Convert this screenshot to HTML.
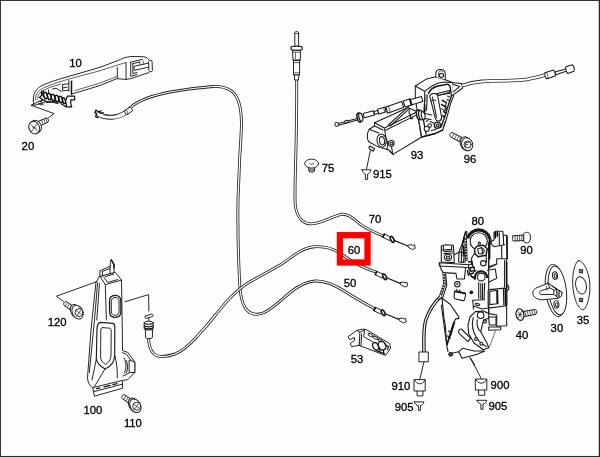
<!DOCTYPE html>
<html>
<head>
<meta charset="utf-8">
<title>Door lock parts diagram</title>
<style>
html,body{margin:0;padding:0;background:#fdfdfd;}
body{width:600px;height:457px;overflow:hidden;position:relative;font-family:"Liberation Sans",sans-serif;}
svg{position:absolute;left:0;top:0;display:block;}
#art{filter:blur(0.4px);}
.l{fill:none;stroke:#1c1c1c;stroke-width:0.95;stroke-linecap:round;stroke-linejoin:round;}
.t{fill:none;stroke:#1c1c1c;stroke-width:0.7;stroke-linecap:round;stroke-linejoin:round;}
.h{fill:none;stroke:#111;stroke-width:1.5;stroke-linecap:round;stroke-linejoin:round;}
.w{fill:#fdfdfd;stroke:#1c1c1c;stroke-width:0.95;stroke-linecap:round;stroke-linejoin:round;}
.k{fill:#1c1c1c;stroke:none;}
.co{fill:none;stroke:#222;stroke-width:2.9;stroke-linecap:butt;stroke-linejoin:round;}
.ci{fill:none;stroke:#fdfdfd;stroke-width:1.25;stroke-linecap:butt;stroke-linejoin:round;}
text{font-family:"Liberation Sans",sans-serif;font-size:11.3px;fill:#000;stroke:#000;stroke-width:0.3;}
#lock80 .l,#lock80 .w{stroke-width:1.1}
#act93 .l,#act93 .w{stroke-width:1.05}
</style>
</head>
<body>
<svg id="art" width="600" height="457" viewBox="0 0 600 457">
<rect x="0" y="0" width="600" height="457" fill="#fdfdfd"/>

<!-- ===== CABLES ===== -->
<g id="cables">
<path class="co" d="M96,112.5 C100,116 110,117.5 118,115.5 C124,114 127,111 131,107 C140,99 155,95 170,92 C185,89.5 200,87.5 213,86.5 C219,86 225,87.4 230,90 C234,92.4 236,95.4 237.6,99 C239.6,103.6 241.3,112 241.5,122 C241.5,132 240.4,145 239.6,160 L238,200 C237.5,230 238.5,260 239.5,280 C240,295 242,304 246,309 C250,314 256,315.5 263,313 C272,309.5 282,299 292,291 C300,285 307,281.5 315,281 C325,280.5 335,285 345,291.5 C355,298 365,303.5 375,309"/>
<path class="ci" d="M96,112.5 C100,116 110,117.5 118,115.5 C124,114 127,111 131,107 C140,99 155,95 170,92 C185,89.5 200,87.5 213,86.5 C219,86 225,87.4 230,90 C234,92.4 236,95.4 237.6,99 C239.6,103.6 241.3,112 241.5,122 C241.5,132 240.4,145 239.6,160 L238,200 C237.5,230 238.5,260 239.5,280 C240,295 242,304 246,309 C250,314 256,315.5 263,313 C272,309.5 282,299 292,291 C300,285 307,281.5 315,281 C325,280.5 335,285 345,291.5 C355,298 365,303.5 375,309"/>
<path class="co" d="M148.6,338 C148.6,344 150,350 154,354 C158,357.5 166,357 175,354 C185,350 192,342 197,336.5 C205,328 210,322 215.5,315 C222,307 226,302 231,297 C238,290 243,286 248,283 C258,277 268,272 280,265 C288,260 294,255 299,252 C305,248.5 310,247 315,246.7 C322,246.5 328,247.5 333,249.5 C340,252.5 345,256.5 349,259.2 C356,263.8 366,268.6 377,272.5"/>
<path class="ci" d="M148.6,338 C148.6,344 150,350 154,354 C158,357.5 166,357 175,354 C185,350 192,342 197,336.5 C205,328 210,322 215.5,315 C222,307 226,302 231,297 C238,290 243,286 248,283 C258,277 268,272 280,265 C288,260 294,255 299,252 C305,248.5 310,247 315,246.7 C322,246.5 328,247.5 333,249.5 C340,252.5 345,256.5 349,259.2 C356,263.8 366,268.6 377,272.5"/>
<path class="co" d="M296.7,78 L296.7,100 C296.6,120 296.2,140 295.7,160 C295.3,175 294.6,192 295.2,204 C295.8,212 298.4,217 302,220.6 C306,224 312,225 320,222.2 C328,219.6 336,215.5 341,214.3 C348,213.3 353.4,218.6 359.4,223.6 C367,229.4 376,233 385,236.8"/>
<path class="ci" d="M296.7,78 L296.7,100 C296.6,120 296.2,140 295.7,160 C295.3,175 294.6,192 295.2,204 C295.8,212 298.4,217 302,220.6 C306,224 312,225 320,222.2 C328,219.6 336,215.5 341,214.3 C348,213.3 353.4,218.6 359.4,223.6 C367,229.4 376,233 385,236.8"/>
</g>

<!-- ===== RED HIGHLIGHT BOX ===== -->
<rect x="339.95" y="235.2" width="27.6" height="27.3" fill="none" stroke="#fd0000" stroke-width="6.3"/>

<!-- ===== LABELS ===== -->
<g id="labels" style="filter:grayscale(1)">
<text x="69.3" y="66.8">10</text>
<text x="21.6" y="149.8">20</text>
<text x="321.8" y="171.6">75</text>
<text x="372.9" y="177.9">915</text>
<text x="410.8" y="158.7">93</text>
<text x="463.8" y="163.1">96</text>
<text x="368.8" y="223.2">70</text>
<text x="347.8" y="254.2">60</text>
<text x="343.8" y="286.7">50</text>
<text x="471.5" y="225.2">80</text>
<text x="520.3" y="254.1">90</text>
<text x="515.8" y="339.3">40</text>
<text x="550.6" y="331.6">30</text>
<text x="576.8" y="323.8">35</text>
<text x="350.8" y="363.4">53</text>
<text x="391.4" y="390.3">910</text>
<text x="394.8" y="411.2">905</text>
<text x="490.6" y="389.4">900</text>
<text x="488.4" y="409.9">905</text>
<text x="47.8" y="325.6">120</text>
<text x="83.5" y="413.5">100</text>
<text x="123.9" y="427.1">110</text>
</g>


<!-- ===== HANDLE 10 ===== -->
<g id="handle10">
<!-- outer top edge -->
<path class="l" d="M33.3,100.5 C33.3,96 34,93 36,90.5 C38,87.8 40,86.5 43,85 C48,82.8 56,80 65,77.5 L100,67.3 L113.3,62.3 C117,61 120,59.5 122.7,58.5 C126,57.2 129,56.6 132,56.5 L143.5,56.7 C146,57.2 147.8,58.3 148.7,59.5"/>
<!-- second/third top lines -->
<path class="t" d="M35.5,100 C35.5,96 36.2,94 38,92 C40,89.5 43,88 46,86.8 C52,84.3 60,81.5 69,79 L100,70.7 L116.7,65.3 L126,62.5"/>
<path class="t" d="M37.6,99 C37.6,96 38.5,94.5 40,93 C42,91 45,89.5 50,87.3 L61,84"/>
<!-- bottom edge -->
<path class="l" d="M72,94 L100,85.5 L116.7,78.7 L126,79.4 L130.5,78.7 L148.7,72.6"/>
<path class="t" d="M75,90.6 L100,83 L116.7,76.6"/>
<!-- verticals -->
<path class="l" d="M117.3,67.3 L117.3,78.2 M126,62.5 L126,79.3"/>
<!-- right recess -->
<path class="l" d="M130.7,62.2 L130.7,76.3 L137,74.6 M130.7,62.2 L142.5,59.3 M132.8,63.6 L132.8,73.6 L137,72.5 M132.8,63.6 L139.5,62"/>
<!-- pin -->
<path class="w" d="M134.3,66.3 L149,63 L149.3,67 L134.8,70.3 Z"/>
<path class="w" d="M148.6,61.2 C148.6,60 151.8,59.6 152,61 L152.4,70.5 C152.4,72 149.2,72.4 149,71 Z"/>
<path class="t" d="M139.8,61.9 L139.8,65 M143.2,61 L143.2,64.2"/>
<!-- left: dark bar + E bracket -->
<path class="h" d="M71.5,81.2 L71.5,94.3"/>
<path class="l" d="M68.8,80.5 L68.8,91.2 M62.6,84.8 L68.8,83.6 M62.6,84.8 L62.6,91 L68.8,90 M62.6,88 L67.3,87.1"/>
<!-- spring -->
<g class="h" style="stroke-width:1.45">
<ellipse cx="45.5" cy="95.6" rx="1.7" ry="3.3" transform="rotate(-15 45.5 95.6)"/>
<ellipse cx="49.3" cy="96.6" rx="1.7" ry="3.3" transform="rotate(-15 49.3 96.6)"/>
<ellipse cx="53.1" cy="97.6" rx="1.7" ry="3.3" transform="rotate(-15 53.1 97.6)"/>
<ellipse cx="56.9" cy="98.6" rx="1.7" ry="3.3" transform="rotate(-15 56.9 98.6)"/>
<ellipse cx="60.7" cy="99.6" rx="1.7" ry="3.3" transform="rotate(-15 60.7 99.6)"/>
<ellipse cx="64" cy="100.6" rx="1.5" ry="3" transform="rotate(-15 64 100.6)"/>
</g>
<!-- left mechanism bits -->
<path class="h" style="stroke-width:1.2" d="M41.5,91 L41.5,95.5 L39.5,97.5 L42.5,99.5 L40.8,101.5 M43.5,90.5 C42.5,93 42.6,95 43.5,96.5 M38.5,101.5 L44,100 L47,102.5 L52,101.8 L58,103.3"/>
<path class="l" d="M48.5,90 L48.5,92.5 M52.5,89 L56,88.3 L61.5,91.3 M39,103.8 C40.5,102.8 42.5,103 43.5,104.2 C42,105.3 40,105.2 39,103.8 Z"/>
<!-- right hook -->
<path class="h" style="stroke-width:1.25" d="M67.2,96.2 L74.6,96.2 L74.6,99.8 L70.8,99.8 C70.4,102.5 70.4,104.5 71.8,106.8 L66,106.8 C66.8,105.2 66.8,104 65.8,102.8 M67.2,96.2 C67,98 66.4,99.5 65.2,100.6 M61.5,104 L65.5,106.6"/>
<!-- bottom line + triangle -->
<path class="l" d="M31.3,105.3 L38.3,101.8 M31.3,105.3 L36.5,104.8 L46,101.5 L60,102 M31.3,105.3 L54,113.6 L48.5,117.8"/>
<path class="l" d="M33.3,100.5 L33.5,103.8"/>
</g>

<!-- ===== BOLT 20 ===== -->
<g id="bolt20">
<path class="w" d="M38.6,121.2 L46.6,117.9 C48.4,117.6 49.2,121.4 47.8,122.3 L40.4,125.8 Z"/>
<path class="t" d="M41.6,120 L43,124.6 M43.8,119.1 L45.3,123.6 M46,118.2 L47.3,122.5"/>
<ellipse class="w" cx="36" cy="126.6" rx="5.2" ry="6.5" transform="rotate(-25 36 126.6)"/>
<ellipse class="w" cx="34.2" cy="127.6" rx="5.2" ry="6.5" transform="rotate(-25 34.2 127.6)"/>
<path class="t" d="M31,124.5 L37.5,131 M37,123.5 L31.5,131.5 M32.5,127 L36,128.3"/>
</g>


<!-- cable A end near handle -->
<g id="cableAend">
<path d="M97,113.6 C101,116 107,117.3 112,117.2 C118,117 122.5,115 126,112.4" fill="none" stroke="#222" stroke-width="4.9"/>
<path d="M97,113.6 C101,116 107,117.3 112,117.2 C118,117 122.5,115 126,112.4" fill="none" stroke="#fdfdfd" stroke-width="3.2"/>
<path class="t" d="M104,114.8 C108,116 113,116 117,114.6"/>
<path class="w" d="M124.6,110.6 L130.2,106.9 C131.4,107.4 132.6,109.6 132.4,110.9 L127,114.7 C125.6,114.2 124.6,112.2 124.6,110.6 Z"/>
<path class="t" d="M126.2,109.6 C127.2,110.8 127.8,112.4 127.9,113.9"/>
<path class="h" style="stroke-width:1.3" d="M96,110 L95,112.5 L96.6,114.2 L95.6,116.6 L97.8,117.6 M97,110.8 L99.5,111.8 L101,110.8 M100,112.8 L103.5,112.8"/>
</g>


<!-- ===== cable C top fitting ===== -->
<g id="fitC">
<path class="w" d="M294.8,46 L294.8,32.6 C294.8,31.2 298.6,31.2 298.6,32.6 L298.6,46 Z"/>
<path class="t" d="M294.9,33.6 L298.5,33.6"/>
<path class="w" style="stroke-width:1.25" d="M291,47.2 C291,45.6 302.2,45.6 302.2,47.2 L302.2,49 C302.2,50.8 291,50.8 291,49 Z"/>
<path class="w" d="M292.8,50.4 L300.6,50.4 L300.2,60.2 L293.4,60.2 Z"/>
<path class="t" d="M295.4,53 L295.4,58.6 M293,52.2 L300.4,52.2"/>
<path class="h" style="stroke-width:1.3" d="M293.6,60.3 L300,60.3"/>
<path class="w" d="M293.9,60.4 L299.6,60.4 L299.6,75 L293.9,75 Z"/>
<path class="t" d="M293.9,62.6 L299.6,62.6 M293.9,72.8 L299.6,72.8"/>
<path class="w" d="M294.8,75 L298.7,75 L298.5,80 L295,80 Z"/>
</g>

<!-- ===== clip 75 ===== -->
<g id="clip75">
<path class="w" d="M308.6,167.3 L308.9,171 C310,172.6 313.4,172.6 314.5,171 L314.8,167.3 Z"/>
<path class="t" d="M308.8,169.2 L314.6,169.2 M309.2,170.7 L314.3,170.7"/>
<ellipse class="w" cx="311.6" cy="163.6" rx="7" ry="4.5"/>
<path class="t" d="M309.6,163.4 C310.6,164.6 312.8,164.6 313.8,163.4"/>
</g>

<!-- ===== pin 915 ===== -->
<g id="pin915">
<path class="l" d="M370.3,150.6 L366.5,169.4"/>
<path class="w" d="M362,169.8 L371,169.8 C370.6,172.4 369,173.8 367.6,174 L367.6,179.4 L365.4,179.4 L365.4,174 C364,173.8 362.4,172.4 362,169.8 Z"/>
</g>


<!-- ===== ACTUATOR 93 ===== -->
<g id="act93">
<!-- left cable with sleeves (drawn first, housing covers it) -->
<path class="l" d="M338.6,123.4 L357,118.4 M338.9,125.2 L357.4,120"/>
<circle class="w" cx="336.8" cy="124.4" r="1.9"/>
<path class="w" d="M344.8,121 L347.6,120.2 L348.2,122.6 L345.4,123.4 Z"/>
<ellipse class="w" style="stroke-width:1.6" cx="359.3" cy="117.6" rx="2.1" ry="4.6" transform="rotate(-14 359.3 117.6)"/>
<ellipse class="w" style="stroke-width:1.2" cx="360.8" cy="117.2" rx="1.8" ry="4.2" transform="rotate(-14 360.8 117.2)"/>
<path class="w" d="M363.2,113.6 L373.4,110.8 L374.4,115 L364.2,117.8 Z"/>
<path class="w" d="M374,111.6 L378,110.4 L378.7,113.3 L374.7,114.4 Z"/>
<path class="w" d="M377.6,109.2 L385,107 L386.2,111.8 L378.8,114 Z"/>
<path class="t" d="M383.6,107.5 L384.8,112.2"/>

<!-- motor box -->
<path class="w" d="M374.5,122.8 L400,111.2 L408,107.6 L417.3,111.8 L421.3,137.3 L393,154.4 L388.7,150 L377.3,146.4 L368.7,141.8 C366.6,138.4 366.8,132.6 369.3,129.2 L374.5,126 Z"/>
<path class="l" d="M374.5,122.8 L384.4,128 L417.3,111.8 M384.4,128 L386,138 M385.6,130.2 L417.6,114.4 M374.5,126 L383,130 M369.3,129.2 L378.6,133"/>
<ellipse class="w" cx="381.6" cy="140.6" rx="4.6" ry="6.7" transform="rotate(-8 381.6 140.6)"/>
<ellipse class="w" cx="382" cy="140.8" rx="2.5" ry="4.2" transform="rotate(-8 382 140.8)"/>
<path class="l" d="M386,138 C387.5,141 388,146 386.8,149.6 M388.7,150 L393.3,154.7 M391.5,146.4 L392.6,153.6"/>
<circle class="w" cx="391.3" cy="143.4" r="2.8"/>
<circle class="w" cx="391.5" cy="143.6" r="1.3"/>
<!-- stub -->
<path class="w" d="M370.2,146 L374.6,148.8 L373.2,151.3 L369.3,148.8 C368.8,147.6 369.3,146.4 370.2,146 Z"/>

<!-- bracket hood -->
<path class="w" d="M415.3,86 L426.7,78.9 L435.3,76.7 L446,80 L453,82.7 L453.6,96 L450.7,103.3 L446,120.7 L442.7,130 L435.3,133.5 L421.8,137 L417.3,112 L415.3,97 Z"/>
<!-- lug -->
<path class="w" d="M435.8,77 L435.8,73.2 C436.2,68.2 445,68.4 445.2,73.6 L445.2,79.6"/>
<circle class="w" cx="441.4" cy="75.3" r="2.1"/>
<path class="t" d="M438.6,76.8 L438.6,72.8 C439,70.6 441.5,70.4 442.6,71.4"/>
<!-- hood front arch -->
<path class="l" d="M415.3,86 L424.7,91.3 L432,86 C436,83.6 440,82.4 444,82 L452.8,82.7 M424.7,91.3 L424.4,113"/>
<path class="h" style="stroke-width:1.3" d="M424.5,104 L423.6,121 L426,134 M428.6,93.6 C430,89 434,87 438,86 L448,84.2 L450.2,86.6 L451.4,96 L449,103 L444.7,117 L440.7,127.5"/>
<path class="l" d="M427.2,95 L426.6,110 M436,94 L449.3,91.3 M436.3,95.8 L449.5,93.2"/>
<!-- lever arm -->
<path class="w" d="M429.8,96.4 C430.4,93 436.6,92.4 437.6,95.4 L441.6,117 C442,121.4 436.6,122.6 435.4,118.6 Z"/>
<path class="l" d="M432.4,97 L436.6,117.6 M431.4,101 C432.6,100 434.6,99.8 435.6,100.4"/>
<!-- rod -->
<path class="w" d="M437.4,93.6 L449.4,90.4 L449.8,92.2 L437.8,95.6 Z"/>
<!-- right inner bits -->
<path class="h" style="stroke-width:1.5" d="M442.4,100.4 L446.4,102.6 M441.6,104.6 L446,107 L445,110 M443.6,111.6 L446,113 M442.6,115.6 L444.6,117.2"/>
<path class="l" d="M446.4,102.6 L445.4,106.4 M441,108.6 L444.4,110.4 M447.6,96 L450.2,97.4 M447,99.6 L449.6,100.6"/>
<path class="t" d="M426.2,95 L425.8,101 M426,105 L425.4,112 M445.4,121 L443,127"/>
<!-- pulley -->
<ellipse class="w" style="stroke-width:1.5" cx="418.8" cy="114.8" rx="2.2" ry="5" transform="rotate(-12 418.8 114.8)"/>
<ellipse class="w" style="stroke-width:1.3" cx="421" cy="115.2" rx="2.2" ry="4.8" transform="rotate(-12 421 115.2)"/>
<ellipse class="w" style="stroke-width:1.1" cx="423.2" cy="115.6" rx="1.8" ry="4" transform="rotate(-12 423.2 115.6)"/>
<path class="l" d="M424.6,113.6 L432,115 M424.6,118.4 L431,119.6"/>
<!-- front sleeves (in front of hood) -->
<path class="w" d="M386,107 L401.6,101.4 L403.6,107.4 L387.6,113.2 Z"/>
<path class="t" d="M388.6,106.2 L390.2,112.2"/>
<path class="w" d="M403.2,101 L409.6,98.9 L411.2,104.9 L405,107 Z"/>
<path class="h" style="stroke-width:1.6" d="M409.8,99 L411.4,105"/>
<path class="w" d="M410.6,99.4 L421.4,96.4 L422.8,101.6 L412,104.8 Z"/>
<path class="l" d="M388.4,125 L408.6,106.6 M390.4,126 L409.6,108.4"/>
<path class="l" d="M409.6,110 C408.6,112 409,114 410.6,114.6 L410.4,118 C411,119.4 412.6,119 412.8,117.6"/>
<!-- lower circles -->
<circle class="w" cx="426.8" cy="128.8" r="2.6"/>
<circle class="w" cx="429.6" cy="125.6" r="1.8"/>
<circle class="w" style="stroke-width:1.3" cx="437.4" cy="125.3" r="3.1"/>
<circle class="w" cx="437.6" cy="125.4" r="1.3"/>
<path class="l" d="M430,121.6 L434.6,123.4 M431.4,130.6 L436,129.6 M426.4,121.6 L428.4,119.6"/>
<path class="h" style="stroke-width:1.3" d="M421.8,137 L435.3,133.5 L442.7,130"/>

<!-- right cable -->
<path class="w" d="M453,82.8 L461.6,83.4 L462.6,88 L452.4,95.4"/>
<path class="l" d="M453.4,84.4 L459.6,86.6 L453.2,91.8"/>
<path d="M462,85.6 C468,83.4 474,82 482,81.4 C496,80.4 512,81.2 524,79.8 C532,78.6 539,76.6 546,74.8" fill="none" stroke="#222" stroke-width="3.6"/>
<path d="M462,85.6 C468,83.4 474,82 482,81.4 C496,80.4 512,81.2 524,79.8 C532,78.6 539,76.6 546,74.8" fill="none" stroke="#fdfdfd" stroke-width="2"/>
<g transform="translate(0,1.1)">
<path class="w" d="M544.8,71.6 L553.6,69 C554.8,70 555.8,73.6 555.2,75 L546.6,77.8 C545.4,76.6 544.6,73.2 544.8,71.6 Z"/>
<path class="t" d="M546.6,71.2 C547.6,72.8 548.2,75.2 548,77.2"/>
<path class="w" d="M555,71 L566.4,67.6 L567,70 L555.6,73.6 Z"/>
<path class="w" d="M565.8,65.6 L572.4,63.6 C573.8,64.4 574.8,68.8 574,70.2 L567.6,72.4 C566.2,71.2 565.4,67.2 565.8,65.6 Z"/>
</g>
</g>

<!-- ===== BOLT 96 ===== -->
<g id="bolt96" transform="translate(0.6,0.9)">
<path class="w" d="M451,131.6 C449.6,132.2 448.6,134.6 449.6,135.8 L460.4,141.6 L462.6,137.6 Z"/>
<path class="t" d="M453.4,132.9 L451.6,136.6 M455.8,134.1 L454,137.9 M458.2,135.3 L456.4,139.2 M460.4,136.4 L458.6,140.4"/>
<ellipse class="w" cx="465" cy="142.6" rx="5.2" ry="6.8" transform="rotate(-20 465 142.6)"/>
<ellipse class="w" cx="466.6" cy="143.4" rx="5.4" ry="6.6" transform="rotate(-20 466.6 143.4)"/>
<circle class="w" cx="467" cy="143.6" r="3.5"/>
<path class="t" d="M465.2,141.8 L465.2,145.6 M465.2,141.8 L468.2,141.4 M465.2,143.8 L467.6,143.4"/>
</g>


<!-- ===== LOCK 80 ===== -->
<g id="lock80">
<!-- right column -->
<path class="w" d="M494,232.7 L495.3,231.3 L502.7,231.3 L503.3,235.3 L506.7,235.3 L507.3,258.7 L506.4,260 L506.7,325.7 L496.7,326.3 L496.7,315 L488.7,313.6 L488.7,268 L488.7,242.7 L494,240 Z"/>
<path class="l" d="M499.3,232.7 L499.3,245.3 M494,246.7 L504.7,244.7 M490.7,243.3 L494,246.7 M503.3,235.3 L503.6,244.6 M496.7,258.7 L507.3,258.7 M496.7,258.7 L496.7,264 L488.7,266.7"/>
<path class="h" d="M495.2,232.4 L495.2,235.4 M506.9,236 L507.2,258 M506.7,262 L506.7,288"/>
<path class="l" d="M501.6,246 L501.8,258 M504.6,260.6 L504.6,287"/>
<!-- shoulder block right of lower circle -->
<path class="l" d="M487.3,270.3 L495.3,269 L496.7,278.3 L488.7,282.3 M488.7,268 L496.7,264"/>
<!-- window -->
<path class="w" style="stroke-width:1.2" d="M489.6,289.6 L505,288.2 C506.2,288.2 506.8,289 506.8,290 L506.8,304 C506.8,305.4 506,306 505,306 L490.4,307.8 C489,307.8 488.2,307 488.2,305.8 L488.2,291 C488.2,290 488.8,289.6 489.6,289.6 Z"/>
<path class="l" d="M489.8,291.2 L496.7,290.5 L496.9,303.8 L489.8,304.6 Z M497.6,290.4 L498,303.8 M503.4,289.4 L503.8,305"/>
<path class="h" style="stroke-width:1.8" d="M505.4,290 L505.6,304.6"/>
<path class="l" d="M507.3,285 L508.7,286.4 L508.7,289.6 L507.3,290.4"/>
<!-- bottom of right column -->
<path class="l" d="M488.7,305 L488.7,313.6 M488.7,317 L496,317 L496,325 L489.3,325 Z M488.7,327 L500.7,327 L500.7,329.8 L488.7,330.3 Z"/>
<path class="t" style="stroke-dasharray:1.6 1.2" d="M495.3,331 L489.3,347.7"/>

<!-- gear housing on top -->
<path d="M467.7,238.3 A11.4 11.4 0 0 1 489.7,238.3" fill="none" stroke="#161616" stroke-width="3.1"/>
<circle class="w" cx="478.7" cy="241.3" r="8.6"/>
<path class="l" d="M466.2,239.6 A13 13 0 0 1 491.2,239.6 L491.2,243.4 M466.2,239.6 L466.2,244"/>
<path class="h" style="stroke-width:1.9" d="M489.6,238.6 L489.4,258.6"/>
<circle class="w" cx="479.3" cy="243.2" r="1.1"/>
<!-- hex piece -->
<path class="w" style="stroke-width:1.5" d="M474.7,248.7 L477.3,246 L483.3,245.3 L487.3,248.7 L486,255.3 L478,256.7 L474.7,253.3 Z"/>
<path class="l" d="M477.6,249 L481.6,247.6 L484.6,250.4 L482.6,254 L478.6,253.6 Z M481.6,247.6 L482.6,254"/>
<path class="l" d="M488.7,242.7 L488.7,268 M486,255.3 L486.6,262 M474.7,253.3 L471.6,258 L471.6,264"/>
<!-- lever left of circle -->
<path class="w" d="M465.6,231.4 L467,232 L465.4,246 L463.4,262.4 L458.6,262 L459,252 L462.4,243 Z"/>
<path class="l" d="M464.6,235 L461.4,252 L461.4,262 M466.4,244 L465,262.6 M459,252 L463.6,252.6"/>
<path class="h" style="stroke-width:1.3" d="M465.8,231.6 L462.6,243 M463.6,246 L463.2,256"/>
<path d="M465.6,237 L466.3,261" fill="none" stroke="#1a1a1a" stroke-width="2.6"/>
<path d="M465.6,237 L466.3,261" fill="none" stroke="#fdfdfd" stroke-width="1.3" stroke-dasharray="1.2 1.6"/>
<path class="h" style="stroke-width:1.6" d="M495.4,232.6 L495.4,238 M497.4,232 L497.4,236"/>
<!-- left box -->
<path class="w" d="M441.3,246 L446,244.7 L453.3,245.3 L454,254.7 L454.2,262.6 L441.3,262 Z"/>
<path class="l" d="M443.4,246.6 L443.4,250 L451.6,249.4 L451.6,246 M444,251.6 L452.6,251 M444,253.6 L452.6,253"/>
<ellipse class="w" cx="448" cy="257.3" rx="3.6" ry="3.1"/>
<ellipse class="w" cx="448" cy="257.5" rx="1.6" ry="1.4"/>
<path class="l" d="M454,254.7 L458.8,252.4 M441.3,250 L443.4,250"/>
<!-- ledge -->
<path class="w" d="M439.3,262.7 L468.7,264.7 L468.7,267.7 L463.3,267.3 L439.3,266 Z"/>
<path class="l" d="M439.3,262.7 L441.5,270.4 M456,273.4 L457,279 L464.4,279 L465.6,267.6 M442.6,272.6 L456,273.4"/>
<path class="l" d="M468.7,264.7 L471.6,264 L474,268 M468.7,267.7 L469.6,274 L472.6,277"/>
<!-- small circle right of centre -->
<circle class="w" cx="483.3" cy="263.3" r="2.7"/>
<!-- lower big circle with heavy arc -->
<path d="M475.2,279.6 A6.2 6.2 0 1 1 487.2,278" fill="none" stroke="#161616" stroke-width="2"/>
<circle class="w" cx="481.2" cy="277" r="3.9"/>
<path class="l" d="M473.6,272 L476,270.6 M472.6,277 L474.8,277.4"/>
<!-- stem below circle -->
<path class="l" d="M478.7,282.6 L478.7,298.3 M484.7,283 L484,299.7 M480.8,283.6 L480.8,298.6 M482.6,283.6 L482.4,299"/>
<path class="l" d="M472.7,300.3 L484,299.7 M472.7,300.3 L473.3,305.7 L482,309 L488.7,308 M473.3,305.7 L473.3,309"/>
<ellipse class="l" cx="477.6" cy="304.4" rx="2.2" ry="1" transform="rotate(12 477.6 304.4)"/>
<!-- small circle, rounded rect, dot (left-centre) -->
<circle class="w" cx="457.3" cy="284.3" r="2.7"/>
<circle class="k" cx="457.3" cy="284.3" r="1"/>
<path class="w" d="M455.4,291.2 L464.6,293 C465.6,293.2 465.8,294 465.6,295 L464.6,299.6 C464.4,300.6 463.6,300.8 462.8,300.6 L455.6,299 C454.4,298.8 454,298 454.2,297 L454.4,292 C454.4,291.4 454.8,291.2 455.4,291.2 Z"/>
<path class="h" style="stroke-width:1.6" d="M455.2,291.4 L465,293.4"/>
<path class="l" d="M456.6,289.4 L457.6,291.6 M459.6,290 L460.2,292"/>
<circle class="k" cx="471.3" cy="292.3" r="1.9"/>
<!-- left edge / rod -->
<path class="l" d="M441.5,270 L443.4,272.6 M445.6,274 L446.8,285 L442.8,297.4 L438.4,299.4"/>
<path d="M443.8,273 L444.4,284 L440.4,296" fill="none" stroke="#1a1a1a" stroke-width="2.7"/>
<path d="M443.8,273 L444.4,284 L440.4,296" fill="none" stroke="#fdfdfd" stroke-width="1.5" stroke-dasharray="1.3 1.5"/>
<!-- dark jumble between ledge and lower circle -->
<path class="h" style="stroke-width:1.3" d="M468.6,262 L472,261.4 L472.6,264.6 M469.6,268 L474,267 L474.6,270.4 L471,271.4 Z M470,274 L473.6,273 M471,276.4 L474.6,278.4 M467.4,270.6 L468.4,275.4"/>
<path class="l" d="M439.6,296 C434,301.4 428,310 424.6,320 C422.6,327 422.4,340 422.8,351.6 M441.4,297.4 C436,302.6 430,311 426.6,321 C424.8,328 424.8,340 425.2,351.6"/>
<!-- triangle lever -->
<path class="w" d="M442,298.3 L450,304 L458.7,316.6 L458.7,318.6 L456,318.6 L453.3,323 L446.7,345 L445.3,325 L444,318.3 Z"/>
<path class="h" style="stroke-width:1.3" d="M453.2,325 L447.2,344.6 M454.6,322.4 L450.4,336 M448.6,331 L451.6,333 M447.6,336 L450.2,338"/>
<path class="l" d="M441.3,305 L446.7,345 L448,351.7"/>
<circle class="k" cx="450.7" cy="354.3" r="2.4"/>
<circle cx="450.7" cy="354.3" r="0.6" fill="#bbb"/>
<path class="l" d="M452.8,353 L458.7,351.7"/>
<!-- circle at 480,315 + pawl -->
<path class="w" d="M470,317 L475.3,311.6 L483.3,311 L488.7,313.6 L488.7,318.3 L483.6,320 L480.7,331.7 L487.3,343.7 L488.7,347.7 L483.3,349.7 L474,343 L468.7,333.7 L468,325 Z"/>
<path class="l" d="M473.2,317.6 C471.6,324 472.6,331 476.2,337 C478.6,341 482,344.6 486.4,346.4 M477.3,319.7 C476.6,324 477.6,329 480.7,331.7"/>
<circle class="w" cx="480.6" cy="315.2" r="3.3"/>
<circle class="w" cx="476" cy="339" r="1.4"/>
<circle class="w" cx="481.3" cy="343.7" r="1.4"/>
<circle class="w" cx="485" cy="321.6" r="1.5"/>
<!-- finger -->
<path class="w" d="M461.3,329 C459,328.6 457.6,331.6 459.3,333.7 L468,341.7 L470.6,338.2 Z"/>
<!-- lower plate -->
<path class="w" d="M458.7,351.7 L462.7,348.3 L474,351 L484.7,351 L477.3,354.3 L462,358.3 Z"/>
<path class="l" d="M470,357.7 L474.7,365"/>
</g>


<!-- ===== 910 / 900 / 905 ===== -->
<g id="p9xx">
<rect class="w" x="419.3" y="352" width="9" height="9.8"/>
<path class="l" d="M424,361.8 L419.8,379.2"/>
<path class="w" d="M414.4,379.6 L425.2,379.6 L425.2,391 L422.9,391 L422.9,395.9 L417.1,395.9 L417.1,391 L414.4,391 Z"/>
<path class="l" d="M414.6,380 C416.4,385.2 423,385.2 425,380 M417.1,391 L422.9,391"/>
<path class="w" d="M414.4,401.9 L424,401.9 C423.4,404.4 422,405.4 420.4,405.6 L420.4,410.4 L418.4,410.4 L418.4,405.6 C416.6,405.4 415,404.4 414.4,401.9 Z"/>
<path class="l" d="M470.6,358.4 L481.3,378.6"/>
<path class="w" d="M475.7,379 L486.8,379 L486.8,390 L484.7,390 L484.7,395.3 L478.6,395.3 L478.6,390 L475.7,390 Z"/>
<path class="l" d="M475.9,379.4 C477.8,384.6 484.6,384.6 486.6,379.4 M478.6,390 L484.7,390"/>
<path class="w" d="M477.1,400.3 L486.8,400.3 C486.2,402.8 484.6,403.8 483,404 L483,409.3 L480.9,409.3 L480.9,404 C479.2,403.8 477.7,402.8 477.1,400.3 Z"/>
</g>

<!-- ===== screw 90 ===== -->
<g id="scr90">
<path class="w" d="M513,235.8 L524,235 L524,240.6 L513,241 C512.4,239.6 512.4,237.2 513,235.8 Z"/>
<path class="t" d="M515.2,235.7 L515.2,240.9 M517.4,235.5 L517.4,240.8 M519.6,235.3 L519.6,240.7 M521.8,235.2 L521.8,240.6"/>
<path class="w" d="M524,233.4 C526,231.4 529.4,232 530.2,235 C530.8,237.6 530.4,240.6 529,242.2 C527.4,243.4 525.2,243 524,241.8 Z"/>
</g>

<!-- ===== screw 40 ===== -->
<g id="scr40">
<path class="w" d="M522,311.6 L535.6,309.4 C537.2,310 537.2,313.4 535.8,314.4 L523,316.8 Z"/>
<path class="t" d="M524.6,311.2 L526,316.2 M527,310.8 L528.4,315.8 M529.4,310.4 L530.8,315.4 M531.8,310 L533.2,314.9 M534.2,309.6 L535.4,314.5"/>
<ellipse class="w" style="stroke-width:1.2" cx="520" cy="314.6" rx="3.9" ry="5.9" transform="rotate(-10 520 314.6)"/>
<path class="t" d="M518.2,311.6 L521.8,317.6 M521.6,311.4 L518.4,317.8 M518,314.8 L522,314.4"/>
</g>

<!-- ===== striker 30 ===== -->
<g id="str30">
<ellipse class="w" cx="555.6" cy="290.4" rx="10" ry="26.2" transform="rotate(-7 555.6 290.4)"/>
<ellipse class="w" cx="557.4" cy="290.4" rx="8.9" ry="24.6" transform="rotate(-7 557.4 290.4)"/>
<ellipse class="w" cx="555" cy="275.6" rx="2.5" ry="3.8" transform="rotate(-7 555 275.6)"/>
<ellipse class="w" cx="555.3" cy="275.9" rx="1.2" ry="2.1" transform="rotate(-7 555.3 275.9)"/>
<ellipse class="w" cx="556.4" cy="304.4" rx="2.5" ry="3.8" transform="rotate(-7 556.4 304.4)"/>
<ellipse class="w" cx="556.7" cy="304.7" rx="1.2" ry="2.1" transform="rotate(-7 556.7 304.7)"/>
<!-- fold band -->
<path class="l" d="M547,282.6 L562.4,292.6 M547.4,285.4 L561.4,295"/>
<!-- loop -->
<path class="w" d="M548,283.4 L537,287.6 C532.4,289.4 531.6,294 534.6,297 C536.4,298.8 539,299.6 542,299.8 L557.6,298.4 L561.6,296 L562,292.6 L552,286 Z"/>
<path class="w" d="M549.6,288 L541,290.6 C539,291.4 539,293.8 541,294.6 L553.6,294.4 L554,290.6 Z"/>
<path class="l" d="M548,283.4 L549.6,288 M554,290.6 L556.6,289 L552,286 M556.6,289 L556.8,296.6 L553.6,294.4 M556.8,296.6 L557.6,298.4 M559,290.6 L559.2,297.2"/>
<path class="t" d="M546.4,286.4 L547.2,290.4 M558,291.6 L558,296.4"/>
</g>

<!-- ===== gasket 35 ===== -->
<g id="gsk35">
<path class="w" d="M578.2,260.8 C581,260.2 584.4,264 586.6,269.6 C589.2,276 590.4,283 589.8,291 C589.2,299 586.8,306.6 584,309.6 C581,310.6 577.8,306.4 575.6,300.4 C573.2,293.4 572.2,285.4 572.8,277.4 C573.4,269.4 575.4,262.4 578.2,260.8 Z"/>
<ellipse class="w" cx="581" cy="285.4" rx="5.3" ry="8.8" transform="rotate(-12 581 285.4)"/>
<path class="l" d="M580,269.4 L582.8,269.8 L582.4,273 L579.6,272.6 Z M580,298.2 L582.8,298.6 L582.4,301.8 L579.6,301.4 Z"/>
<path class="t" d="M580,269.4 L582.4,273 M582.8,269.8 L579.6,272.6 M580,298.2 L582.4,301.8 M582.8,298.6 L579.6,301.4"/>
</g>

<!-- ===== clip 53 ===== -->
<g id="clip53">
<path class="w" d="M357,330.4 L362,329.2 L366,329.4 L389.6,343.6 L390.6,348 L388,352 L385.4,355.4 L378,352.6 L359,345.4 L359.6,339 Z"/>
<path class="w" d="M348.4,336.4 L357,330.4 L359.8,332.2 L359.6,339 L359,345.4 L351.6,346.6 L350.2,343.6 L354.4,340.6 L354.6,337.6 L350,339.4 Z"/>
<path class="l" d="M359.8,332.2 L364.6,330 M361.6,334 L361,345.8 M364.6,330 L363.6,336.6 L379,345.4"/>
<ellipse class="w" style="stroke-width:1.5" cx="382" cy="345.6" rx="3.6" ry="4.6" transform="rotate(-25 382 345.6)"/>
<ellipse class="w" style="stroke-width:1.3" cx="375.6" cy="346.4" rx="2.6" ry="4" transform="rotate(-25 375.6 346.4)"/>
<ellipse class="l" cx="370.4" cy="335" rx="2.6" ry="1.2" transform="rotate(30 370.4 335)"/>
<ellipse class="l" cx="375.4" cy="337.8" rx="2.6" ry="1.2" transform="rotate(30 375.4 337.8)"/>
<ellipse class="l" cx="380.2" cy="340.4" rx="2.2" ry="1.1" transform="rotate(30 380.2 340.4)"/>
<path class="h" style="stroke-width:1.2" d="M376.4,350.6 L384.8,354 M379.6,349 L380.2,352.4 M383.4,350.4 L384,353.6 M386.4,345.4 L388.6,346.8 L387.4,349.6"/>
</g>

<!-- ===== cable terminals 70/60/50 ===== -->
<g id="terms">
<g id="term">
<path class="w" d="M384.4,233.9 L391.4,237.3 L389.8,240.7 L382.8,237.3 Z"/>
<path class="h" style="stroke-width:1.4" d="M384.6,234.2 L383,237.2"/>
<ellipse class="w" style="stroke-width:1.7" cx="392.2" cy="239.4" rx="1.5" ry="3.1" transform="rotate(-26 392.2 239.4)"/>
<path class="l" style="stroke-width:1.2" d="M394.2,240.4 L408.4,246.2"/>
<path class="w" d="M408,245.2 L411.6,244.6 L412.4,245.6 L414.6,244.8 L415.2,248.4 L412.6,249.6 L408.6,247.4 Z"/>
</g>
<use href="#term" x="-7.6" y="37.4"/>
<use href="#term" x="-9" y="73.4"/>
</g>


<!-- ===== BRACKET 100 ===== -->
<g id="br100">
<!-- body outline -->
<path class="w" d="M99.9,276.2 L115.1,272.2 L121.5,280.1 L122.3,330 L122.5,350.6 L127.8,352.4 L134.8,362 L134.8,372.5 L127.8,379.5 L122.5,380.6 L122.5,388.2 L94.4,396.2 L92.8,387.6 C89.6,386 87.6,382 87.5,377.8 L91,330 L95.9,282.6 Z"/>
<!-- tab -->
<path class="w" d="M99.9,276.2 L99.9,270.8 L110.2,266.3 L110.5,261.4 L111.2,259.4 L114.1,264.4 L114.1,272.5 L102.4,275.8 Z"/>
<path class="l" d="M102.4,271.4 L102.4,275.8 M102.4,271.4 L110,268.6 L110.2,266.3 M110,268.6 L110,273.4"/>
<path class="h" style="stroke-width:1.4" d="M111.3,260 L113.9,264.6 L113.9,268"/>
<!-- top face -->
<path class="l" d="M99.9,276.2 L105.3,284.6 L121.5,280.1 M103.6,277 L107.6,282.4 L117.6,279.6 M105.4,276.6 L113.6,274.2 M105.3,284.6 L106.4,320"/>
<!-- left side lines -->
<path class="l" d="M97.6,282.8 L94.5,320 L89.3,372.5 M99.4,283.6 L96.8,320"/>
<!-- slot -->
<path class="w" style="stroke-width:1.3" d="M115,295.4 C118.4,295.2 120.8,297.4 120.8,300.6 L120.9,311.6 C120.9,315 118.8,317.2 115.6,317.4 C112.2,317.6 109.6,315.6 109.6,312.2 L109.5,301.2 C109.5,297.8 111.8,295.6 115,295.4 Z"/>
<path class="l" d="M115.1,297.4 C117.6,297.3 119,298.8 119,301 L119.1,311.4 C119.1,313.8 117.8,315.2 115.5,315.4 C113,315.5 111.4,314.2 111.4,311.8 L111.3,301.6 C111.3,299.2 112.8,297.5 115.1,297.4 Z"/>
<!-- big opening -->
<path class="l" style="stroke-width:1.15" d="M100.6,322.4 L112.6,323.4 C114.4,323.6 114.9,324.6 114.8,326.4 L114.7,355 C114.4,362 110.4,367 105,369 C100.6,366.6 97.2,363 96.3,359.4 L97,328.8 C97.2,324.4 98.6,322.6 100.6,322.4 Z"/>
<path class="l" d="M102.4,327.6 L109.6,328.2 C110.8,328.4 111.3,329.2 111.2,330.4 L111,356 C110.6,360 108.4,363 105.4,364.4 C102.6,362.6 100.9,360.4 100.6,357.4 L100.8,330 C100.9,328.4 101.4,327.6 102.4,327.6 Z"/>
<path class="l" d="M114.7,355 C116.6,362 117.6,370 117.3,377.8 M105,369 L94.5,386.5 M96.3,359.4 L92,380"/>
<!-- bottom plate -->
<path class="l" d="M92.8,387.6 L121.7,380.6 M94,391.6 L122.2,384.2"/>
<path class="h" style="stroke-width:1.3" d="M96.6,388.6 L100,387.8 M104,386.8 L110,385.4 M113,384.6 L117,383.6"/>
<!-- bump details -->
<path class="w" d="M129.5,360.3 L134.8,362 L134.8,372.5 L129.5,372.5 Z"/>
<path class="l" d="M122.5,352.6 L126.6,354.4 L131,360.4 M124,358 C126.4,362 126.6,368 124.6,373 M126.4,360.6 C128,364 128,369 126.6,372.6 M123,376 L128.6,373.4"/>
</g>
<!-- leaders for 100 -->
<path class="l" d="M96.9,281.6 L56.5,296.2 L63.5,301.5"/>
<path class="l" d="M125.2,301.7 L148.6,294.6 L148.9,311"/>

<!-- ===== BOLT 120 ===== -->
<g id="bolt120">
<path class="w" d="M65.4,301.4 C64,301.8 63,304.2 64,305.2 L71,310.4 L73.6,306.8 Z"/>
<path class="t" d="M67.4,302.6 L65.4,306.2 M69.4,304 L67.4,307.6 M71.4,305.4 L69.4,309"/>
<ellipse class="w" cx="76" cy="311.4" rx="5" ry="7.4" transform="rotate(-28 76 311.4)"/>
<ellipse class="w" cx="77.6" cy="312.2" rx="5.2" ry="7.2" transform="rotate(-28 77.6 312.2)"/>
<circle class="w" cx="79" cy="312.6" r="3.9"/>
<path class="t" d="M76.6,311 L81.4,314.4 M80.6,310.4 L77.4,315"/>
</g>

<!-- ===== BOLT 110 ===== -->
<g id="bolt110">
<path class="w" d="M123.6,394.6 C122,395 121.2,397.6 122.2,398.6 L129.6,404 L132.2,400.4 Z"/>
<path class="t" d="M125.6,395.9 L123.8,399.6 M127.8,397.3 L126,401 M129.8,398.7 L128,402.4"/>
<ellipse class="w" cx="134" cy="405" rx="5" ry="7.4" transform="rotate(-28 134 405)"/>
<ellipse class="w" cx="135.4" cy="405.8" rx="5.2" ry="7.2" transform="rotate(-28 135.4 405.8)"/>
<circle class="w" cx="136.6" cy="406.2" r="3.9"/>
<path class="t" d="M134.2,404.6 L139,408 M138.2,404 L135,408.6"/>
</g>

<!-- ===== connector at cable B start ===== -->
<g id="conn" transform="translate(0,0.6)">
<path class="w" d="M145.6,315.4 L151.6,313.6 C153.2,313.4 153.6,315.4 152.4,316 L146.4,317.8 C144.8,318 144.4,316 145.6,315.4 Z"/>
<path class="l" d="M148.8,317.4 L148.8,321"/>
<ellipse class="w" cx="148.7" cy="322.2" rx="4.6" ry="1.6"/>
<path class="w" d="M144.2,322.6 L144.2,328.6 C145.4,330.2 152,330.2 153.2,328.6 L153.2,322.6 C152,324.2 145.4,324.2 144.2,322.6 Z"/>
<path class="h" style="stroke-width:1.2" d="M144.3,325 C145.6,326.6 152,326.6 153.1,325 M144.3,327 C145.6,328.6 152,328.6 153.1,327"/>
<path class="w" d="M145.4,329.6 L145.6,337 C146.6,338.4 151.4,338.4 152.4,337 L152.5,329.6 Z"/>
</g>

<!--PARTS-->

</svg>
<svg id="frame" width="600" height="457" viewBox="0 0 600 457">
<!-- ===== FRAME ===== -->
<g fill="#2a2a2a"><rect x="0" y="0" width="0.95" height="457"/><rect x="0" y="0" width="600" height="0.95"/><rect x="598.75" y="0" width="1.25" height="457"/><rect x="0" y="455.95" width="600" height="1.05"/></g>
</svg>
</body>
</html>
